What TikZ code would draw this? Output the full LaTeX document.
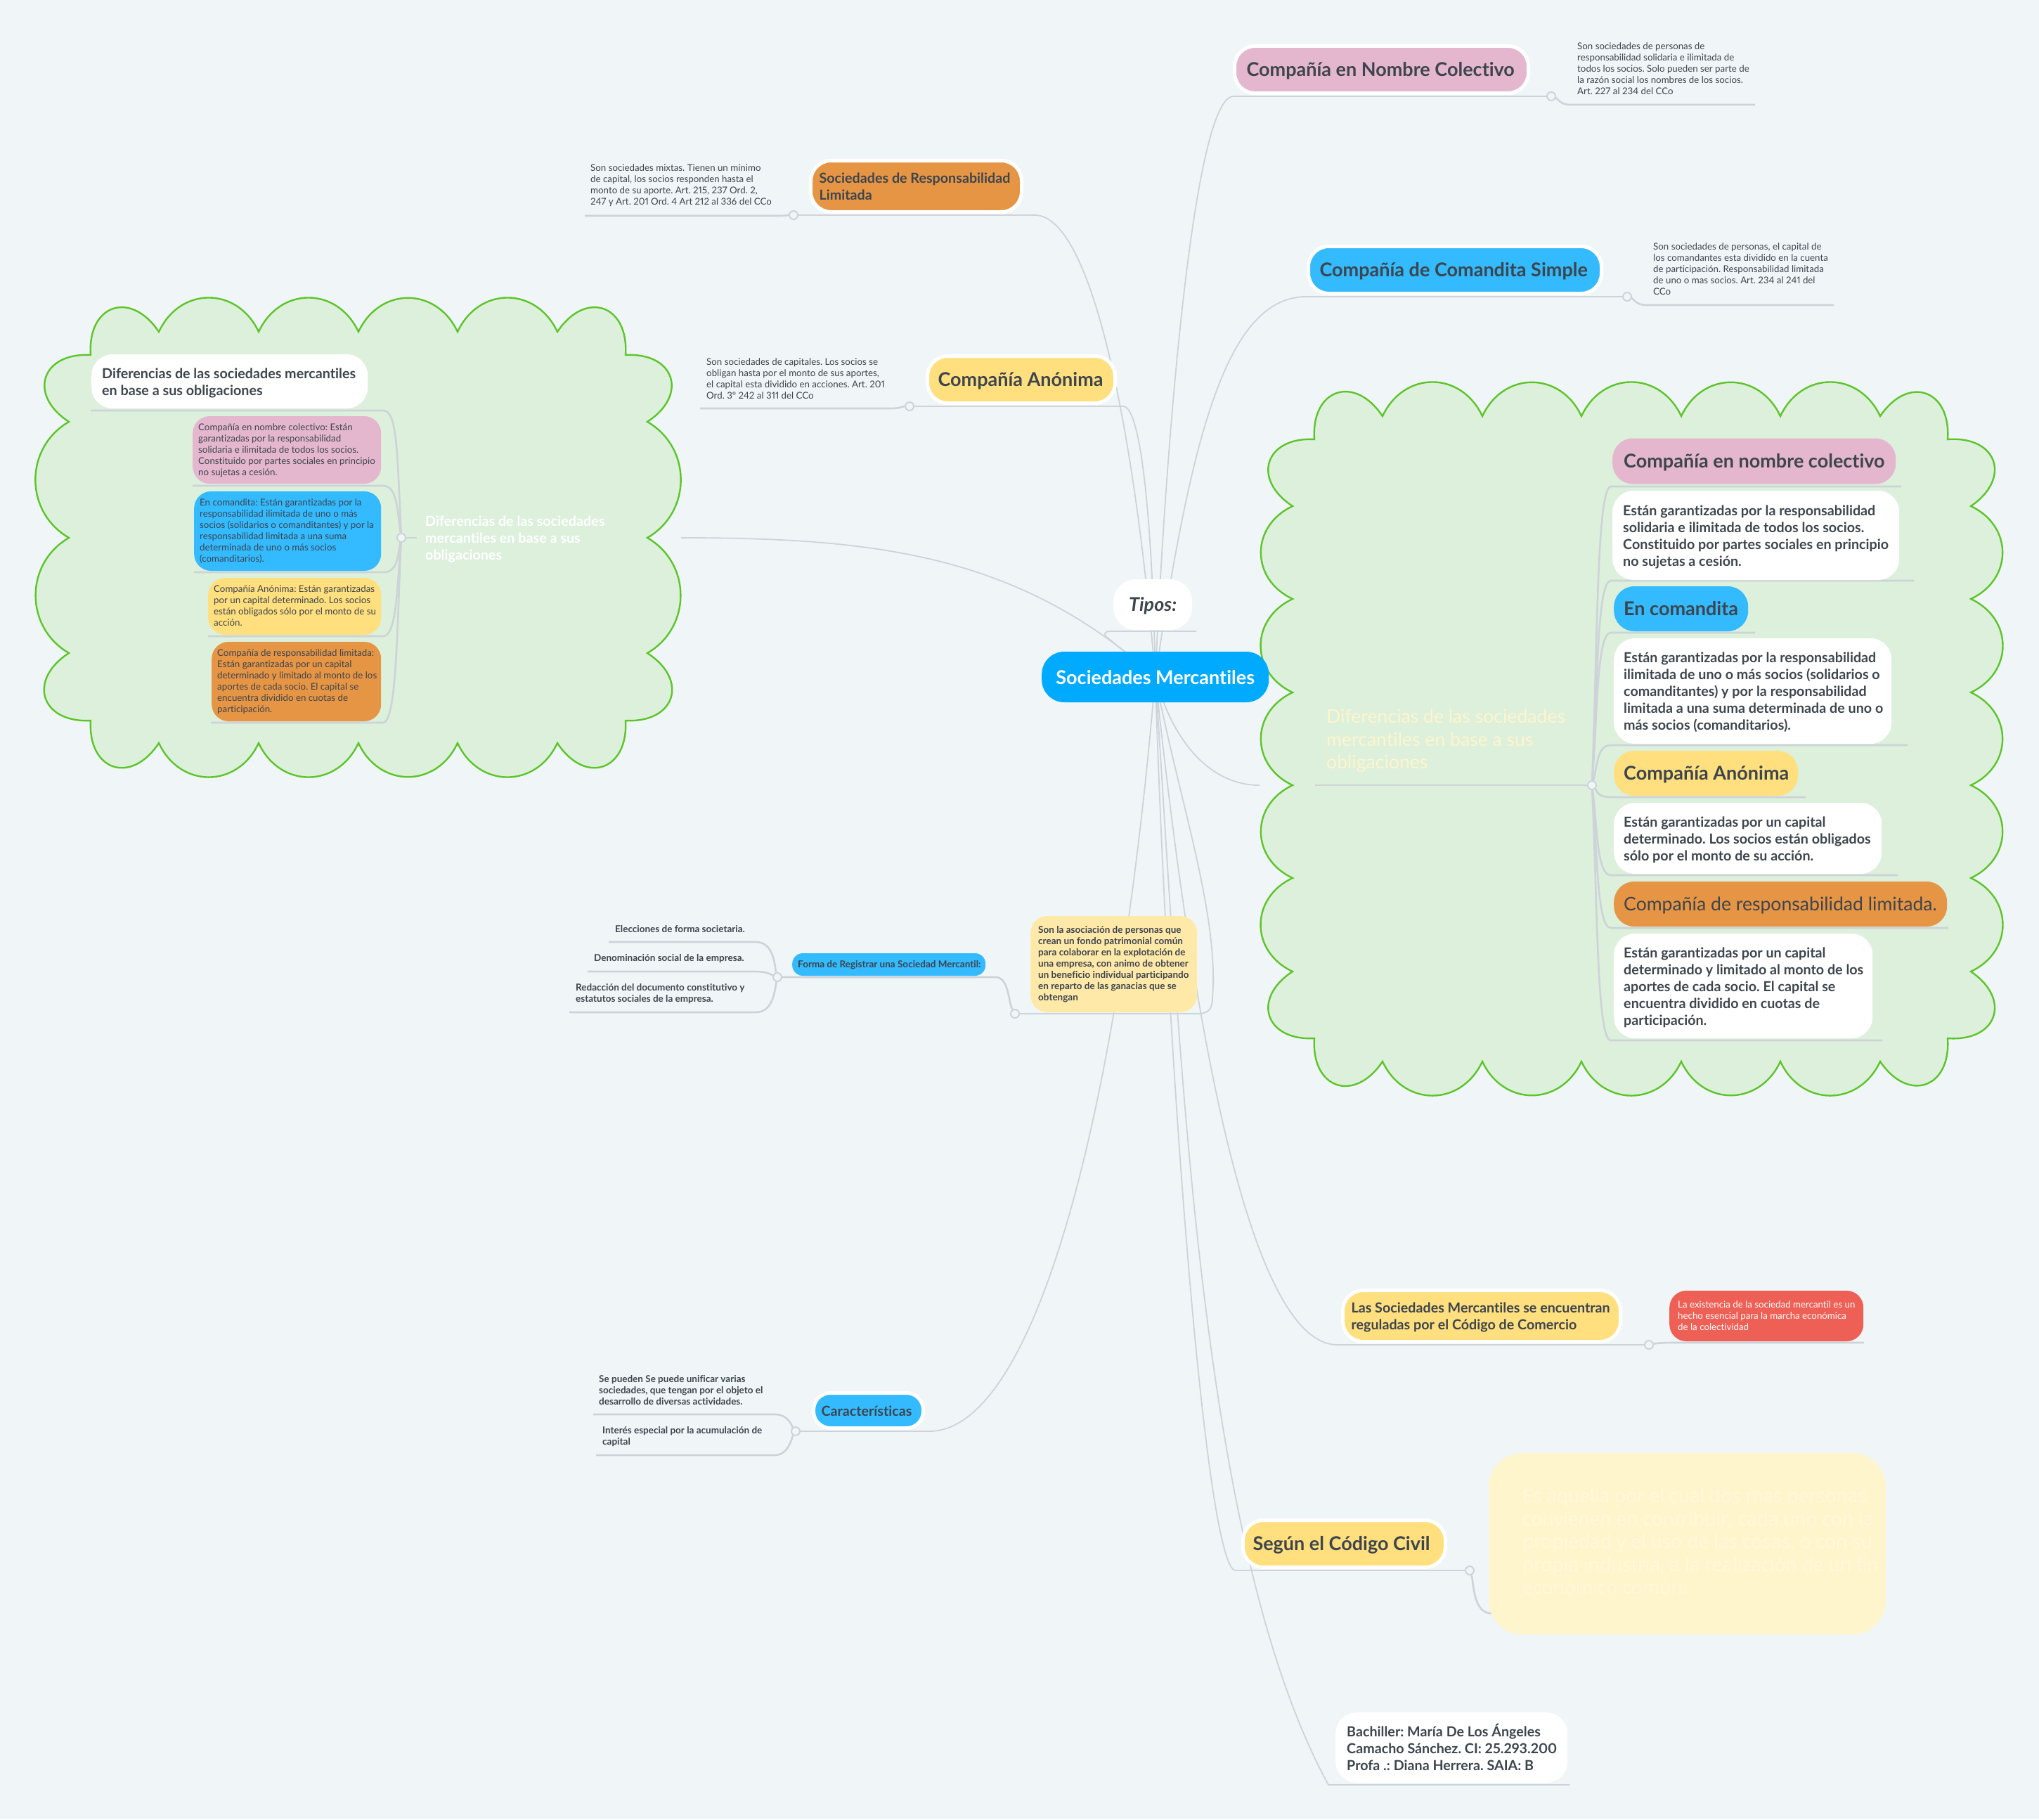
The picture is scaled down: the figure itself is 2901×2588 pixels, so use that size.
\documentclass[tikz,border=0pt]{standalone}
\usepackage{fontspec}
\setmainfont[Ligatures={TeX,NoCommon},Numbers=Proportional]{Lato}
\newfontfamily\abierta{Open Sans}
\frenchspacing
\definecolor{fondo}{HTML}{F0F5F8}
\definecolor{linea}{HTML}{CDD3D8}
\definecolor{tinta}{HTML}{3D454D}
\definecolor{rosa}{HTML}{E5B7CF}
\definecolor{azul}{HTML}{33BAFF}
\definecolor{azulfuerte}{HTML}{00AAFF}
\definecolor{amarillo}{HTML}{FFDF7E}
\definecolor{naranja}{HTML}{E69545}
\definecolor{rojo}{HTML}{EE6055}
\definecolor{crema}{HTML}{FFE9A8}
\definecolor{cremita}{HTML}{FFF5CC}
\definecolor{verde}{HTML}{DCF0DC}
\definecolor{verdefuerte}{HTML}{5DC52A}
\pgfdeclarelayer{fondocapa}
\pgfdeclarelayer{lineas}
\pgfdeclarelayer{nube}
\pgfsetlayers{fondocapa,lineas,nube,main}
\newcommand{\baja}{0pt}
\newcommand{\bloque}[2]{\raisebox{\baja}[\height][\depth]{\makebox[#1pt][l]{\begin{tabular}{@{}l@{}}#2\end{tabular}}}}
\tikzset{
  caja/.style 2 args={rounded corners=29pt, anchor=west, text=tinta, inner ysep=0pt, inner xsep=#2, minimum height=#1},
  borde/.style={draw=white, line width=5pt},
  letraG/.style={font=\fontsize{27}{32}\selectfont\bfseries\renewcommand{\baja}{-3pt}},
  letraR/.style={font=\fontsize{26.6}{32.5}\selectfont\renewcommand{\baja}{-3pt}},
  letraM/.style={font=\fontsize{19.7}{24}\selectfont\bfseries\renewcommand{\baja}{-3pt}},
  letraC/.style={font=\fontsize{13.3}{16}\selectfont\renewcommand{\baja}{-1pt}},
  letraB/.style={font=\fontsize{13.5}{16}\selectfont\bfseries\renewcommand{\baja}{-1pt}},
  texto/.style={anchor=west, align=left, inner sep=0pt, text=tinta},
  hub/.style={circle, draw=linea, fill=fondo, line width=2pt, minimum size=12pt, inner sep=0pt},
  tronco/.style={draw=linea, line width=1.8pt},
  rama/.style={draw=linea, line width=2.6pt},
  nubeforma/.style={draw=verdefuerte, fill=verde, line width=2.4pt},
  loboA/.style={bend left=65, looseness=1.29},
  loboB/.style={bend left=60, looseness=1.14},
  loboC/.style={bend left=75, looseness=1.8}
}
\begin{document}
\begin{tikzpicture}[x=1pt, y=-1pt]
\useasboundingbox (0,0) rectangle (2901,2588);
\begin{pgfonlayer}{fondocapa}
\fill[fondo] (0,0) rectangle (2901,2588);
\end{pgfonlayer}

\foreach \n/\x/\y in {hColec/2207/137, hComan/2315/422, hResp/1129/306, hAnon/1294/578, hForma/1106/1390, hDefin/1444/1442, hCarac/1132/2036, hLas/2346/1913, hCivil/2091/2234, hIzq/571/765, hDer/2265/1117}{
  \node[hub] (\n) at (\x,\y) {};
}
\foreach \n/\x/\y in {fColec/2497/149, fComan/2609/434, fResp/832/307, fAnon/996/581, fEle/866/1340, fDen/836/1382, fRed/810/1440, fSe/844/2012, fInt/848/2070, fLas/2652/1910, fCivil/2651/2295, fTipos/1702/898, fBach/2233/2539, fDefin/1705/1442, fDifD/1871/1117, fIzq/593/765}{
  \coordinate (\n) at (\x,\y);
}

% nodo central
\node[caja={72}{0pt}, rounded corners=32pt, minimum width=323, fill=azulfuerte, text=white, letraG] (root) at (1482,963) {\raisebox{-1pt}[\height][\depth]{Sociedades Mercantiles}};
\node[caja={72}{0pt}, rounded corners=32pt, minimum width=112, fill=white, letraG] (tipos) at (1584,860) {\raisebox{-2pt}[\height][\depth]{\itshape Tipos:}};

\node[caja={67}{17pt}, borde, fill=rosa, letraG] (colec) at (1754,99) {\bloque{384}{Compañía en Nombre Colectivo}};
\node[caja={67}{16pt}, borde, fill=azul, letraG] (coman) at (1859,384) {\bloque{385}{Compañía de Comandita Simple}};
\node[caja={73}{12pt}, borde, fill=naranja, letraM] (resp) at (1151,265) {\bloque{276}{Sociedades de Responsabilidad\\Limitada}};
\node[caja={67}{15pt}, borde, fill=amarillo, letraG] (anon) at (1317,540) {\bloque{237}{Compañía Anónima}};
\node[caja={32}{8pt}, rounded corners=15pt, fill=azul, letraB] (forma) at (1127,1372) {\bloque{259}{Forma de Registrar una Sociedad Mercantil:}};
\node[caja={137}{11pt}, rounded corners=24pt, fill=crema, letraB] (defin) at (1466,1371.5) {\bloque{215}{Son la asociación de personas que\\crean un fondo patrimonial común\\para colaborar en la explotación de\\una empresa, con animo de obtener\\un beneficio individual participando\\en reparto de las ganacias que se\\obtengan}};
\node[caja={50}{11pt}, rounded corners=24pt, borde, fill=azul, letraM] (carac) at (1155,2006.5) {\bloque{134}{Características}};
\node[caja={73}{12pt}, borde, fill=amarillo, letraM] (las) at (1908,1872) {\bloque{371}{Las Sociedades Mercantiles se encuentran\\reguladas por el Código de Comercio}};
\node[caja={72}{12pt}, rounded corners=24pt, fill=rojo, text=white, letraC] (rojoN) at (2375,1872) {\bloque{252}{La existencia de la sociedad mercantil es un\\hecho esencial para la marcha económica\\de la colectividad}};
\node[caja={67}{14pt}, borde, fill=amarillo, letraG] (civil) at (1766,2196) {\bloque{260}{Según el Código Civil}};
\node[caja={258}{48pt}, rounded corners=48pt, fill=cremita, text=white!30!cremita, font=\abierta\fontsize{26.4}{32.5}\selectfont] (civilT) at (2118,2196) {\bloque{469}{Es aquella por el cual dos mas personas\\convienen en contribuir, cada uno con la\\propiedad y el uso de las cosas, o con su\\propia industria, a la realización de un fin\\económico común.}};
\node[caja={100}{16pt}, rounded corners=30pt, fill=white, letraM] (bach) at (1900,2486) {\bloque{298}{Bachiller: María De Los Ángeles\\Camacho Sánchez. CI: 25.293.200\\Profa .: Diana Herrera. SAIA: B}};

% notas sueltas
\node[texto, letraC] (nColec) at (2244,98) {Son sociedades de personas de\\responsabilidad solidaria e ilimitada de\\todos los socios. Solo pueden ser parte de\\la razón social los nombres de los socios.\\Art. 227 al 234 del CCo};
\node[texto, letraC] (nComan) at (2352,383) {Son sociedades de personas, el capital de\\los comandantes esta dividido en la cuenta\\de participación. Responsabilidad limitada\\de uno o mas socios. Art. 234 al 241 del\\CCo};
\node[texto, letraC] (nResp) at (840,263.5) {Son sociedades mixtas. Tienen un mínimo\\de capital, los socios responden hasta el\\monto de su aporte. Art. 215, 237 Ord. 2,\\247 y Art. 201 Ord. 4 Art 212 al 336 del CCo};
\node[texto, letraC] (nAnon) at (1005,538.5) {Son sociedades de capitales. Los socios se\\obligan hasta por el monto de sus aportes,\\el capital esta dividido en acciones. Art. 201\\Ord. 3º 242 al 311 del CCo};
\node[texto, letraB] (nEle) at (875,1322) {Elecciones de forma societaria.};
\node[texto, letraB] (nDen) at (845,1364) {Denominación social de la empresa.};
\node[texto, letraB] (nRed) at (819,1413.5) {Redacción del documento constitutivo y\\estatutos sociales de la empresa.};
\node[texto, letraB] (nSe) at (852,1978) {Se pueden Se puede unificar varias\\sociedades, que tengan por el objeto el\\desarrollo de diversas actividades.};
\node[texto, letraB] (nInt) at (857,2044) {Interés especial por la acumulación de\\capital};

% nube izquierda
\node[caja={77}{15pt}, rounded corners=30pt, fill=white, letraM] (difT) at (130,542.5) {\bloque{363}{Diferencias de las sociedades mercantiles\\en base a sus obligaciones}};
\node[caja={96}{8pt}, rounded corners=24pt, fill=rosa, letraC] (izq1) at (274,640) {\bloque{252}{Compañía en nombre colectivo: Están\\garantizadas por la responsabilidad\\solidaria e ilimitada de todos los socios.\\Constituido por partes sociales en principio\\no sujetas a cesión.}};
\node[caja={113}{8pt}, rounded corners=24pt, fill=azul, letraC] (izq2) at (276,755.5) {\bloque{250}{En comandita: Están garantizadas por la\\responsabilidad ilimitada de uno o más\\socios (solidarios o comanditantes) y por la\\responsabilidad limitada a una suma\\determinada de uno o más socios\\(comanditarios).}};
\node[caja={81}{8pt}, rounded corners=24pt, fill=amarillo, letraC] (izq3) at (296,862.5) {\bloque{230}{Compañía Anónima: Están garantizadas\\por un capital determinado. Los socios\\están obligados sólo por el monto de su\\acción.}};
\node[caja={113}{8pt}, rounded corners=24pt, fill=naranja, letraC] (izq4) at (301,969.5) {\bloque{225}{Compañía de responsabilidad limitada:\\Están garantizadas por un capital\\determinado y limitado al monto de los\\aportes de cada socio. El capital se\\encuentra dividido en cuotas de\\participación.}};
\node[texto, text=white, letraM] (difB) at (605,767) {Diferencias de las sociedades\\mercantiles en base a sus\\obligaciones};

% nube derecha
\node[texto, text=cremita, letraR] (difC) at (1887,1054) {Diferencias de las sociedades\\mercantiles en base a sus\\obligaciones};
\node[caja={65}{16pt}, fill=rosa, letraG] (der1) at (2294,656) {\bloque{371}{Compañía en nombre colectivo}};
\node[caja={127}{15pt}, rounded corners=30pt, fill=white, letraM] (der2) at (2294,761.5) {\bloque{378}{Están garantizadas por la responsabilidad\\solidaria e ilimitada de todos los socios.\\Constituido por partes sociales en principio\\no sujetas a cesión.}};
\node[caja={64}{14pt}, fill=azul, letraG] (der3) at (2296,866) {\bloque{163}{En comandita}};
\node[caja={150}{14pt}, rounded corners=30pt, fill=white, letraM] (der4) at (2296,983) {\bloque{367}{Están garantizadas por la responsabilidad\\ilimitada de uno o más socios (solidarios o\\comanditantes) y por la responsabilidad\\limitada a una suma determinada de uno o\\más socios (comanditarios).}};
\node[caja={64}{14pt}, fill=amarillo, letraG] (der5) at (2296,1100) {\bloque{234}{Compañía Anónima}};
\node[caja={101}{14pt}, rounded corners=30pt, fill=white, letraM] (der6) at (2296,1192.5) {\bloque{353}{Están garantizadas por un capital\\determinado. Los socios están obligados\\sólo por el monto de su acción.}};
\node[caja={64}{14pt}, fill=naranja, letraR] (der7) at (2296,1286) {\bloque{446}{Compañía de responsabilidad limitada.}};
\node[caja={149}{14pt}, rounded corners=30pt, fill=white, letraM] (der8) at (2296,1402.5) {\bloque{340}{Están garantizadas por un capital\\determinado y limitado al monto de los\\aportes de cada socio. El capital se\\encuentra dividido en cuotas de\\participación.}};

\begin{pgfonlayer}{lineas}
\draw[tronco] (root.center) .. controls (1660,600) and (1700,137) .. (1755,137) -- (hColec);
\draw[tronco] (root.center) .. controls (1695,620) and (1745,422) .. (1859,422) -- (hComan);
\draw[tronco] (root.center) .. controls (1615,620) and (1555,306) .. (1472,306) -- (hResp);
\draw[tronco] (root.center) .. controls (1640,760) and (1625,578) .. (1598,578) -- (hAnon);
\draw[tronco] (root.center) .. controls (1450,790) and (1250,765) .. (969,765);
\draw[tronco] (root.center) .. controls (1670,1060) and (1725,1117) .. (1792,1117);
\draw[tronco] (root.center) .. controls (1590,1600) and (1470,2036) .. (1322,2036) -- (hCarac);
\draw[tronco] (root.center) .. controls (1675,1130) and (1735,1300) .. (1725,1420) .. controls (1725,1436) and (1718,1442) .. (fDefin) -- (hDefin);
\draw[tronco] (root.center) .. controls (1690,1400) and (1770,1913) .. (1903,1913) -- (hLas);
\draw[tronco] (root.center) .. controls (1660,1500) and (1715,2234) .. (1758,2234) -- (hCivil);
\draw[tronco] (root.center) .. controls (1680,1500) and (1705,2200) .. (1890,2539) -- (fBach);
\draw[tronco] (root.center) -- (1573,905) .. controls (1570,900) and (1574,898) .. (1580,898) -- (fTipos);
\draw[rama] (hColec) .. controls (2216,140) and (2220,149) .. (2234,149) -- (fColec);
\draw[rama] (hComan) .. controls (2324,425) and (2328,434) .. (2342,434) -- (fComan);
\draw[rama] (hResp) .. controls (1120,306) and (1118,307) .. (1108,307) -- (fResp);
\draw[rama] (hAnon) .. controls (1285,578) and (1280,581) .. (1268,581) -- (fAnon);
\draw[rama] (hForma) .. controls (1102,1375) and (1102,1340) .. (1075,1340) -- (fEle);
\draw[rama] (hForma) .. controls (1098,1387) and (1092,1382) .. (1075,1382) -- (fDen);
\draw[rama] (hForma) .. controls (1102,1410) and (1100,1440) .. (1075,1440) -- (fRed);
\draw[rama] (hForma) -- (1416,1390) .. controls (1436,1390) and (1434,1425) .. (hDefin);
\draw[rama] (hCarac) .. controls (1126,2028) and (1122,2012) .. (1102,2012) -- (fSe);
\draw[rama] (hCarac) .. controls (1126,2046) and (1122,2070) .. (1102,2070) -- (fInt);
\draw[rama] (hLas) .. controls (2355,1911) and (2365,1910) .. (2378,1910) -- (fLas);
\draw[rama] (hCivil) .. controls (2097,2250) and (2095,2295) .. (2122,2295);
\end{pgfonlayer}

\begin{pgfonlayer}{nube}
\draw[nubeforma] (129,505) to[loboC] (226,472) \foreach \x in {368,510,651,793}{to[loboA] (\x,472)} to[loboC] (890,505) to[loboC] (921,600) \foreach \y in {765,929}{to[loboB] (921,\y)} to[loboC] (890,1025) to[loboC] (793,1057) \foreach \x in {651,510,368,226}{to[loboA] (\x,1057)} to[loboC] (129,1025) to[loboC] (98,929) \foreach \y in {765,600}{to[loboB] (98,\y)} to[loboC] (129,505) -- cycle;
\draw[nubeforma] (1870,625) to[loboC] (1967,592) \foreach \x in {2109,2250,2392,2533,2675}{to[loboA] (\x,592)} to[loboC] (2771,625) to[loboC] (2804,720) \foreach \y in {852,985,1117,1249,1382}{to[loboA] (2804,\y)} to[loboC] (2771,1477) to[loboC] (2675,1510) \foreach \x in {2533,2392,2250,2109,1967}{to[loboA] (\x,1510)} to[loboC] (1870,1477) to[loboC] (1839,1382) \foreach \y in {1249,1117,985,852,720}{to[loboA] (1839,\y)} to[loboC] (1870,625) -- cycle;
\foreach \n/\x/\y/\c in {uDif/129/584/640, uIzq1/274/691/725, uIzq2/276/814/795, uIzq3/296/905/830, uIzq4/300/1028/880}{
  \coordinate (\n) at (\x,\y);
  \draw[rama] (hIzq) .. controls (565,\c) and (565,\y) .. (545,\y) -- (\n);
}
\foreach \n/\x/\y in {uDer1/2705/692, uDer2/2723/826, uDer3/2497/900, uDer4/2714/1060, uDer5/2569/1134, uDer6/2700/1245, uDer7/2772/1320, uDer8/2678/1480}{
  \coordinate (\n) at (\x,\y);
  \draw[rama] (hDer) .. controls (2273,{(\y+1117)/2}) and (2272,\y) .. (2292,\y) -- (\n);
}
\draw[rama] (hIzq) -- (fIzq);
\draw[rama] (fDifD) -- (hDer);
\draw[rama] (2149,2295) -- (fCivil);
\end{pgfonlayer}
\end{tikzpicture}
\end{document}
